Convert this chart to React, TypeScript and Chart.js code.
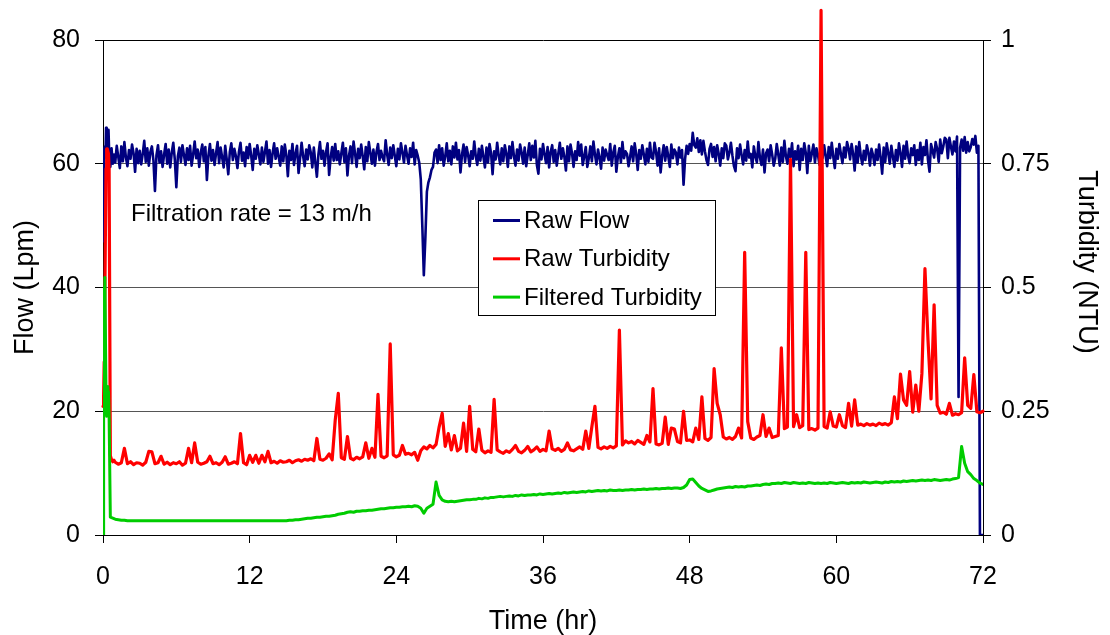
import React, { useEffect, useRef } from 'react';
import { Chart, registerables } from 'chart.js';

Chart.register(...registerables);

const FONT = "'Liberation Sans', Arial, Helvetica, sans-serif";

const seriesLabels = ['Raw Flow', 'Raw Turbidity', 'Filtered Turbidity'];
const seriesColors = ['#000080', '#ff0000', '#00cc00'];
const annotationText = 'Filtration rate = 13 m/h';
const xTitle = 'Time (hr)';
const yTitle = 'Flow (Lpm)';
const y1Title = 'Turbidity (NTU)';
const hourTicks = [0, 12, 24, 36, 48, 60, 72];
const flowTicks = [0, 20, 40, 60, 80];
const turbTicks = [0, 0.25, 0.5, 0.75, 1];

// sampling times (hr): dense start-up samples, then a regular logging interval
const startupHours = [0, 0.05, 0.1, 0.15, 0.2, 0.25, 0.3, 0.35, 0.4, 0.45, 0.5, 0.6, 0.7, 0.8, 0.9];
const turbHours: number[] = [...startupHours];
for (let i = 0; i <= 284; i++) turbHours.push(1 + i * 0.25);
const flowHours: number[] = [...startupHours];
for (let i = 0; i <= 568; i++) flowHours.push(1 + i * 0.125);

// Raw Flow (Lpm), logged every 7.5 min after start-up
const rawFlow = [
  47.5, 55.0, 62.5, 62.8, 61.0, 65.8, 61.5, 64.0, 60.0, 65.5, 62.0, 59.5, 62.5, 60.0, 61.5,
  60.2, 62.9, 61.1, 59.3, 62.8, 60.4, 63.5, 61.0, 59.6, 62.2, 60.8, 63.1, 61.7, 58.7, 62.4, 60.1, // 1
  62.1, 59.9, 61.6, 63.7, 60.3, 62.5, 59.7, 61.9, 62.8, 60.6, 55.6, 61.4, 63.0, 60.2, 62.0, 59.5, // 3
  61.5, 63.2, 60.0, 62.3, 59.4, 61.8, 63.4, 60.7, 56.2, 61.2, 62.6, 60.3, 63.0, 61.4, 59.8, 62.5, // 5
  60.6, 62.9, 59.7, 61.5, 63.6, 60.9, 62.3, 59.5, 61.8, 63.1, 60.4, 62.7, 57.4, 61.3, 63.2, 60.5, // 7
  62.2, 59.8, 61.7, 63.5, 60.1, 62.6, 61.0, 59.4, 62.9, 60.7, 58.3, 61.9, 63.3, 60.6, 62.4, 61.2, // 9
  59.3, 62.0, 63.4, 60.5, 61.8, 59.6, 62.7, 60.9, 63.2, 61.3, 59.0, 62.4, 60.8, 63.0, 61.5, 59.9, // 11
  62.6, 60.3, 61.9, 63.6, 60.0, 62.2, 59.5, 61.7, 63.3, 60.8, 62.5, 61.1, 59.7, 62.8, 60.4, 63.1, // 13
  61.4, 58.0, 62.1, 60.6, 63.2, 59.8, 61.6, 62.9, 58.5, 60.9, 63.4, 61.2, 59.6, 62.3, 60.7, 63.0, // 15
  61.8, 59.4, 62.6, 60.2, 57.9, 61.5, 63.5, 60.8, 62.1, 59.7, 61.9, 63.3, 58.2, 61.0, 62.7, 60.5, // 17
  63.2, 60.6, 62.0, 59.9, 61.7, 63.4, 60.3, 62.5, 58.1, 61.3, 62.8, 60.1, 63.6, 61.6, 59.5, 62.4, // 19
  60.9, 63.1, 61.2, 59.1, 62.7, 60.4, 63.5, 61.8, 60.0, 62.3, 59.7, 61.9, 63.2, 60.6, 62.1, 61.0, // 21
  60.4, 63.8, 61.5, 59.8, 62.6, 60.9, 63.0, 61.3, 59.6, 62.4, 60.7, 63.3, 61.8, 60.2, 62.9, 61.4, // 23
  60.0, 62.5, 61.1, 63.4, 59.9, 62.2, 61.3, 60.2, 57.5, 50.0, 42.0, 48.0, 55.5, 57.0, 57.8, 59.0, // 25
  59.5, 61.8, 62.3, 60.1, 63.0, 60.6, 62.5, 59.7, 61.2, 63.3, 60.4, 62.1, 59.9, 62.8, 61.0, 63.4, // 27
  60.7, 62.2, 58.6, 61.5, 63.1, 60.3, 62.7, 61.4, 59.6, 62.0, 60.8, 63.6, 61.2, 59.8, 62.4, 60.5, // 29
  62.9, 61.1, 59.4, 62.6, 60.2, 63.2, 61.7, 58.3, 62.0, 60.7, 63.4, 61.3, 59.9, 62.5, 60.4, 63.0, // 31
  61.6, 59.5, 62.8, 60.9, 63.5, 61.2, 59.7, 62.3, 60.5, 63.1, 61.8, 60.0, 62.6, 59.6, 61.4, 63.3, // 33
  60.6, 62.9, 61.0, 63.7, 59.8, 58.4, 62.4, 60.7, 63.2, 61.5, 60.1, 62.7, 59.4, 61.9, 63.0, 60.3, // 35
  62.2, 59.7, 61.6, 63.4, 60.8, 62.5, 61.1, 58.9, 62.8, 60.4, 63.1, 61.7, 59.5, 62.0, 60.6, 63.5, // 37
  61.3, 63.1, 59.8, 61.2, 62.7, 59.5, 60.9, 62.8, 60.4, 63.6, 61.5, 59.9, 62.3, 61.0, 59.2, 62.6, // 39
  60.5, 62.3, 61.4, 60.6, 63.2, 59.7, 61.8, 62.9, 58.7, 61.1, 62.5, 60.2, 63.5, 60.9, 62.0, 61.6, // 41
  59.6, 61.1, 62.8, 60.4, 63.3, 61.6, 59.0, 62.2, 60.8, 63.0, 61.5, 59.9, 62.4, 60.3, 63.4, 61.0, // 43
  60.8, 63.4, 61.9, 59.7, 62.5, 58.6, 61.3, 63.0, 60.5, 62.7, 61.2, 59.5, 63.1, 60.9, 62.3, 61.8, // 45
  59.9, 62.6, 61.0, 62.2, 56.6, 60.8, 62.9, 61.6, 63.2, 62.1, 65.0, 63.0, 62.6, 64.1, 61.9, 63.8, // 47
  61.5, 63.7, 62.0, 60.6, 59.8, 62.4, 63.2, 61.1, 62.7, 60.4, 63.0, 61.6, 59.7, 62.5, 60.9, 63.3, // 49
  62.9, 60.7, 61.8, 63.4, 61.3, 59.6, 58.8, 62.5, 60.9, 63.1, 61.4, 59.9, 62.2, 60.5, 63.6, 61.0, // 51
  61.6, 59.4, 62.8, 61.2, 60.2, 63.5, 61.0, 59.8, 62.3, 58.6, 61.7, 62.3, 60.4, 63.0, 61.5, 59.7, // 53
  60.8, 63.2, 61.5, 59.7, 62.6, 60.3, 63.7, 61.2, 60.0, 62.4, 61.1, 63.3, 59.6, 62.0, 60.7, 62.9, // 55
  59.0, 62.4, 60.6, 63.3, 61.8, 58.5, 62.9, 60.4, 61.7, 63.1, 60.2, 62.5, 61.4, 59.8, 62.8, 60.9, // 57
  63.0, 61.3, 59.6, 62.7, 60.9, 63.4, 61.1, 59.3, 62.4, 60.8, 63.2, 61.6, 60.1, 62.6, 61.0, 63.5, // 59
  62.5, 60.7, 63.2, 61.6, 58.9, 62.8, 60.2, 63.5, 61.3, 59.9, 62.1, 60.6, 63.0, 61.8, 59.7, 62.4, // 61
  61.4, 59.8, 62.3, 60.6, 63.1, 61.0, 58.4, 62.6, 60.3, 63.3, 61.7, 60.0, 62.9, 61.2, 59.5, 62.2, // 63
  60.5, 63.3, 61.7, 59.5, 62.9, 60.8, 63.6, 61.2, 60.1, 62.5, 61.4, 63.0, 59.8, 62.2, 60.6, 63.4, // 65
  59.9, 62.7, 61.4, 63.8, 60.6, 58.7, 63.2, 62.1, 61.0, 63.5, 62.4, 60.3, 63.9, 61.7, 62.8, 64.2, // 67
  63.9, 60.9, 64.2, 62.8, 61.5, 63.6, 62.0, 64.4, 22.3, 62.6, 63.9, 62.1, 64.3, 61.8, 63.5, 62.0, // 69
  62.7, 64.0, 63.1, 64.5, 61.8, 62.9, 0, 0, 0, // 71
];

// Raw Turbidity (NTU), logged every 15 min after start-up
const rawTurbidity = [
  0.26, 0.28, 0.35, 0.48, 0.62, 0.74, 0.78, 0.78, 0.78, 0.77, 0.74, 0.16, 0.152, 0.148, 0.151,
  0.147, 0.143, 0.146, 0.175, 0.144, 0.148, 0.142, 0.146, // 1
  0.145, 0.141, 0.147, 0.169, 0.168, 0.144, 0.146, 0.159, // 3
  0.143, 0.147, 0.142, 0.146, 0.144, 0.148, 0.141, 0.145, // 5
  0.175, 0.146, 0.186, 0.147, 0.143, 0.145, 0.148, 0.159, // 7
  0.144, 0.146, 0.142, 0.147, 0.158, 0.143, 0.145, 0.148, // 9
  0.144, 0.205, 0.146, 0.142, 0.161, 0.147, 0.161, 0.145, // 11
  0.161, 0.148, 0.169, 0.146, 0.149, 0.145, 0.150, 0.147, // 13
  0.148, 0.151, 0.146, 0.150, 0.152, 0.149, 0.153, 0.151, // 15
  0.154, 0.150, 0.195, 0.153, 0.151, 0.155, 0.164, 0.152, // 17
  0.232, 0.286, 0.156, 0.153, 0.199, 0.155, 0.152, 0.157, // 19
  0.154, 0.158, 0.186, 0.155, 0.175, 0.157, 0.284, 0.159, // 21
  0.156, 0.160, 0.386, 0.162, 0.158, 0.161, 0.181, 0.163, // 23
  0.165, 0.162, 0.167, 0.151, 0.170, 0.178, 0.174, 0.181, // 25
  0.176, 0.183, 0.218, 0.246, 0.179, 0.205, 0.172, 0.201, // 27
  0.170, 0.175, 0.226, 0.169, 0.260, 0.173, 0.168, 0.214, // 29
  0.171, 0.166, 0.170, 0.167, 0.274, 0.172, 0.168, 0.165, // 31
  0.170, 0.167, 0.173, 0.181, 0.169, 0.166, 0.171, 0.179, // 33
  0.168, 0.172, 0.178, 0.169, 0.173, 0.170, 0.210, 0.174, // 35
  0.171, 0.175, 0.169, 0.173, 0.186, 0.172, 0.170, 0.174, // 37
  0.178, 0.173, 0.210, 0.175, 0.219, 0.260, 0.177, 0.174, // 39
  0.178, 0.175, 0.179, 0.176, 0.180, 0.414, 0.182, 0.190, // 41
  0.186, 0.189, 0.184, 0.191, 0.187, 0.183, 0.201, 0.188, // 43
  0.296, 0.184, 0.182, 0.185, 0.238, 0.183, 0.216, 0.214, // 45
  0.189, 0.186, 0.250, 0.191, 0.192, 0.188, 0.216, 0.193, // 47
  0.279, 0.195, 0.191, 0.197, 0.336, 0.266, 0.243, 0.198, // 49
  0.194, 0.197, 0.193, 0.199, 0.216, 0.196, 0.571, 0.229, // 51
  0.196, 0.193, 0.198, 0.201, 0.243, 0.199, 0.216, 0.197, // 53
  0.199, 0.201, 0.378, 0.215, 0.218, 0.759, 0.219, 0.243, // 55
  0.217, 0.221, 0.571, 0.213, 0.215, 0.212, 0.216, 1.06, // 57
  0.219, 0.216, 0.249, 0.220, 0.218, 0.243, 0.221, 0.217, // 59
  0.266, 0.220, 0.273, 0.222, 0.224, 0.221, 0.225, 0.222, // 61
  0.224, 0.221, 0.226, 0.223, 0.225, 0.222, 0.227, 0.279, // 63
  0.235, 0.325, 0.273, 0.262, 0.330, 0.248, 0.303, 0.250, // 65
  0.326, 0.538, 0.394, 0.275, 0.465, 0.262, 0.246, 0.248, // 67
  0.244, 0.266, 0.242, 0.245, 0.243, 0.247, 0.358, 0.262, // 69
  0.256, 0.324, 0.249, 0.247, 0.250, // 71
];

// Filtered Turbidity (NTU), logged every 15 min after start-up
const filteredTurbidity = [
  0, 0.43, 0.50, 0.52, 0.40, 0.27, 0.24, 0.30, 0.25, 0.29, 0.24, 0.036, 0.035, 0.034, 0.033,
  0.032, 0.031, 0.030, 0.030, 0.029, 0.029, 0.029, 0.029, // 1
  0.029, 0.029, 0.029, 0.029, 0.029, 0.029, 0.029, 0.029, // 3
  0.029, 0.029, 0.029, 0.029, 0.029, 0.029, 0.029, 0.029, // 5
  0.029, 0.029, 0.029, 0.029, 0.029, 0.029, 0.029, 0.029, // 7
  0.029, 0.029, 0.029, 0.029, 0.029, 0.029, 0.029, 0.029, // 9
  0.029, 0.029, 0.029, 0.029, 0.029, 0.029, 0.029, 0.029, // 11
  0.029, 0.029, 0.029, 0.029, 0.029, 0.029, 0.029, 0.029, // 13
  0.029, 0.030, 0.030, 0.031, 0.031, 0.032, 0.033, 0.034, // 15
  0.034, 0.035, 0.036, 0.036, 0.037, 0.038, 0.038, 0.039, // 17
  0.040, 0.042, 0.043, 0.044, 0.046, 0.047, 0.046, 0.048, // 19
  0.048, 0.049, 0.049, 0.050, 0.050, 0.051, 0.052, 0.053, // 21
  0.053, 0.054, 0.055, 0.055, 0.056, 0.056, 0.057, 0.057, // 23
  0.058, 0.057, 0.059, 0.058, 0.054, 0.044, 0.054, 0.058, // 25
  0.062, 0.107, 0.080, 0.071, 0.068, 0.067, 0.068, 0.067, // 27
  0.068, 0.069, 0.070, 0.071, 0.071, 0.072, 0.072, 0.074, // 29
  0.073, 0.075, 0.074, 0.076, 0.076, 0.077, 0.078, 0.077, // 31
  0.078, 0.079, 0.078, 0.080, 0.079, 0.081, 0.080, 0.081, // 33
  0.081, 0.082, 0.081, 0.083, 0.082, 0.083, 0.084, 0.083, // 35
  0.084, 0.085, 0.084, 0.086, 0.085, 0.086, 0.087, 0.086, // 37
  0.087, 0.088, 0.087, 0.089, 0.088, 0.089, 0.090, 0.089, // 39
  0.090, 0.089, 0.091, 0.090, 0.090, 0.091, 0.090, 0.091, // 41
  0.091, 0.092, 0.091, 0.092, 0.092, 0.093, 0.092, 0.093, // 43
  0.093, 0.094, 0.093, 0.094, 0.094, 0.095, 0.094, 0.095, // 45
  0.095, 0.094, 0.096, 0.101, 0.112, 0.113, 0.106, 0.099, // 47
  0.094, 0.091, 0.088, 0.089, 0.091, 0.093, 0.094, 0.095, // 49
  0.096, 0.097, 0.096, 0.098, 0.097, 0.098, 0.097, 0.099, // 51
  0.099, 0.100, 0.101, 0.100, 0.102, 0.103, 0.102, 0.104, // 53
  0.104, 0.105, 0.104, 0.106, 0.105, 0.104, 0.106, 0.105, // 55
  0.104, 0.105, 0.104, 0.106, 0.105, 0.104, 0.105, 0.104, // 57
  0.105, 0.104, 0.106, 0.105, 0.104, 0.105, 0.106, 0.105, // 59
  0.104, 0.106, 0.105, 0.106, 0.105, 0.107, 0.106, 0.105, // 61
  0.106, 0.107, 0.106, 0.105, 0.107, 0.106, 0.108, 0.107, // 63
  0.108, 0.107, 0.109, 0.108, 0.109, 0.110, 0.109, 0.110, // 65
  0.111, 0.110, 0.111, 0.110, 0.112, 0.111, 0.110, 0.111, // 67
  0.112, 0.111, 0.113, 0.114, 0.116, 0.179, 0.145, 0.128, // 69
  0.122, 0.114, 0.110, 0.105, 0.102, // 71
];

const toPoints = (xs: number[], vals: number[]) => xs.map((h, i) => ({ x: h, y: vals[i] }));

const overlayPlugin = {
  id: 'overlay',
  afterDatasetsDraw(chart: any) {
    const ctx = chart.ctx as CanvasRenderingContext2D;
    ctx.save();
    // annotation
    ctx.font = `24px ${FONT}`;
    ctx.fillStyle = '#000';
    ctx.textBaseline = 'alphabetic';
    ctx.textAlign = 'left';
    ctx.fillText(annotationText, 131, 221);
    // legend box
    ctx.fillStyle = '#fff';
    ctx.fillRect(478.5, 200.5, 237, 115);
    ctx.strokeStyle = '#000';
    ctx.lineWidth = 1;
    ctx.strokeRect(478.5, 200.5, 237, 115);
    chart.data.datasets.forEach((ds: any, i: number) => {
      const y = 220.5 + i * 38.3;
      ctx.strokeStyle = ds.borderColor;
      ctx.lineWidth = 3;
      ctx.beginPath();
      ctx.moveTo(493, y);
      ctx.lineTo(520, y);
      ctx.stroke();
      ctx.fillStyle = '#000';
      ctx.textBaseline = 'middle';
      ctx.fillText(ds.label, 524, y + 1);
    });
    // right axis title
    ctx.save();
    ctx.font = `27px ${FONT}`;
    ctx.fillStyle = '#000';
    ctx.textAlign = 'center';
    ctx.textBaseline = 'middle';
    ctx.translate(1086, 262);
    ctx.rotate(Math.PI / 2);
    ctx.fillText(y1Title, 0, 0);
    ctx.restore();
    ctx.restore();
  },
};

export default function App() {
  const ref = useRef<HTMLCanvasElement | null>(null);

  useEffect(() => {
    if (!ref.current) return;
    const tickFont = { family: FONT, size: 25 };
    const titleFont = { family: FONT, size: 27 };
    const chart = new Chart(ref.current, {
      type: 'line',
      data: {
        datasets: [
          {
            label: seriesLabels[0],
            data: toPoints(flowHours, rawFlow),
            borderColor: seriesColors[0],
            borderWidth: 2.6,
            yAxisID: 'y',
            order: 3,
          },
          {
            label: seriesLabels[1],
            data: toPoints(turbHours, rawTurbidity),
            borderColor: seriesColors[1],
            borderWidth: 3.2,
            yAxisID: 'y1',
            order: 2,
            clip: false,
          },
          {
            label: seriesLabels[2],
            data: toPoints(turbHours, filteredTurbidity),
            borderColor: seriesColors[2],
            borderWidth: 3,
            yAxisID: 'y1',
            order: 1,
          },
        ] as any,
      },
      options: {
        responsive: false,
        animation: false,
        events: [],
        layout: { padding: { top: 40, left: 0, right: 0, bottom: 0 } },
        plugins: { legend: { display: false }, tooltip: { enabled: false } },
        elements: {
          point: { radius: 0 },
          line: { tension: 0, borderJoinStyle: 'round', borderCapStyle: 'round', fill: false },
        },
        scales: {
          x: {
            type: 'linear',
            position: 'bottom',
            min: 0,
            max: 72,
            afterBuildTicks: (s: any) => {
              s.ticks = hourTicks.map((v) => ({ value: v }));
            },
            afterFit: (s: any) => {
              s.height = 100;
            },
            grid: { drawOnChartArea: false, drawTicks: true, tickLength: 8, tickColor: '#000', tickWidth: 1 },
            border: { display: true, color: '#000', width: 1 },
            ticks: { color: '#000', font: tickFont, padding: 19, maxRotation: 0, autoSkip: false, callback: (v: any) => String(v) },
            title: { display: true, text: xTitle, color: '#000', font: titleFont, padding: { top: 0, bottom: -3 } },
          },
          y: {
            type: 'linear',
            position: 'left',
            min: 0,
            max: 80,
            afterBuildTicks: (s: any) => {
              s.ticks = flowTicks.map((v) => ({ value: v }));
            },
            afterFit: (s: any) => {
              s.width = 103;
            },
            grid: {
              drawOnChartArea: true,
              drawTicks: true,
              tickLength: 8,
              tickColor: '#000',
              color: (c: any) => (c.tick && (c.tick.value === 0 || c.tick.value === 80) ? '#000' : '#555'),
              lineWidth: 1,
            },
            border: { display: true, color: '#000', width: 1 },
            ticks: { color: '#000', font: tickFont, padding: 15, callback: (v: any) => String(v) },
            title: { display: true, text: yTitle, color: '#000', font: titleFont, padding: { top: 9, bottom: 0 } },
          },
          y1: {
            type: 'linear',
            position: 'right',
            min: 0,
            max: 1,
            afterBuildTicks: (s: any) => {
              s.ticks = turbTicks.map((v) => ({ value: v }));
            },
            afterFit: (s: any) => {
              s.width = 127;
            },
            grid: { drawOnChartArea: false, drawTicks: true, tickLength: 8, tickColor: '#000' },
            border: { display: true, color: '#000', width: 1 },
            ticks: { color: '#000', font: tickFont, padding: 10, callback: (v: any) => String(v) },
            title: { display: false, text: y1Title },
          },
        },
      } as any,
      plugins: [overlayPlugin],
    });
    return () => chart.destroy();
  }, []);

  return (
    <div style={{ position: 'fixed', left: 0, top: 0, width: 1110, height: 635, background: '#fff' }}>
      <canvas ref={ref} width={1110} height={635} style={{ display: 'block', width: 1110, height: 635 }} />
    </div>
  );
}
